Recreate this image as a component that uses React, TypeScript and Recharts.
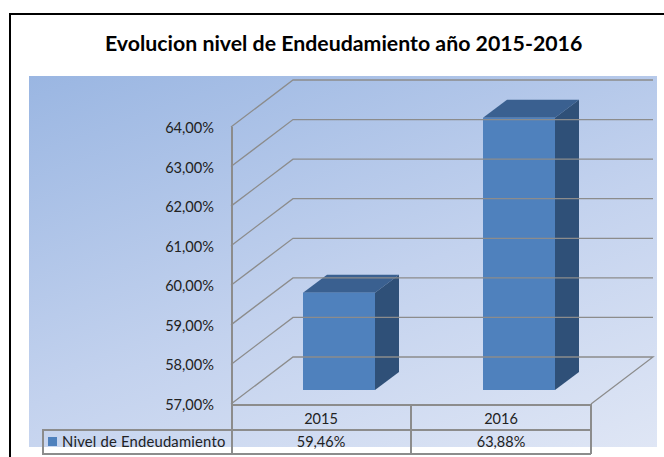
import { Bar, ComposedChart, XAxis, YAxis } from "recharts";

const years = ["2015", "2016"];
const nivel = [59.46, 63.88];
const yTicks = [57, 58, 59, 60, 61, 62, 63, 64];

const data = years.map((year, i) => ({ year, nivel: nivel[i] }));

const pct = (v: number) => v.toFixed(2).replace(".", ",") + "%";

// offsets of the fake 3d box
const wallDx = 62;
const wallDy = 47;
const barShiftX = 18;
const barShiftY = 14;
const barDx = 24;
const barDy = 18;
const FONT = "Lato, sans-serif";

function WallTick({ y, payload }: any) {
    const left = 231;
    const isFloor = payload.value === yTicks[0];
    return (
        <g>
            <polyline
                points={`${left},${y} ${left + wallDx},${y - wallDy} ${left + wallDx + 360},${y - wallDy}${isFloor ? ` ${left + 360},${y}` : ""}`}
                fill="none" stroke="#8c8c8c" strokeWidth={1.3}
            />
            <text x={214} y={y} dy={6} textAnchor="end" fontSize={14.6} fontFamily={FONT} fill="#222">
                {pct(payload.value)}
            </text>
        </g>
    );
}

function YearTick({ x, y, payload, index }: any) {
    return (
        <g>
            <text x={x} y={y} dy={12} textAnchor="middle" fontSize={14.5} fontFamily={FONT} fill="#222">{payload.value}</text>
            <text x={x} y={y} dy={35} textAnchor="middle" fontSize={14.5} fontFamily={FONT} fill="#222">{pct(nivel[index])}</text>
        </g>
    );
}

function Box3d({ x, y, width, height }: any) {
    const l = x + barShiftX;
    const r = l + width;
    const t = y - barShiftY;
    const b = t + height;
    return (
        <g>
            <polygon points={`${l},${t} ${l + barDx},${t - barDy} ${r + barDx},${t - barDy} ${r},${t}`} fill="#3a6090" />
            <polygon points={`${r},${t} ${r + barDx},${t - barDy} ${r + barDx},${b - barDy} ${r},${b}`} fill="#2f5078" />
            <rect x={l} y={t} width={width} height={height} fill="#4f81bd" />
        </g>
    );
}

const line = { position: "absolute", background: "#8c8c8c" } as const;

export default function App() {
    return (
        <div style={{ position: "absolute", left: 0, top: 0, width: 664, height: 457, background: "#fff", overflow: "hidden" }}>
            <div style={{ position: "absolute", left: 9, top: 13, width: 700, height: 500, border: "2.5px solid #000" }} />
            <div style={{ position: "absolute", left: 29, top: 76, width: 628, height: 371, background: "linear-gradient(160deg, #9ab6e2 0%, #c3d2ee 55%, #dfe6f5 100%)" }} />
            <div style={{ position: "absolute", left: 105, top: 30, whiteSpace: "nowrap", fontFamily: FONT, fontWeight: 700, fontSize: 21.3, color: "#000" }}>
                Evolucion nivel de Endeudamiento año 2015-2016
            </div>

            {/* frame of the data table */}
            <div style={{ ...line, left: 231, top: 127, width: 1.5, height: 327 }} />
            <div style={{ ...line, left: 231, top: 404, width: 360, height: 1.5 }} />
            <div style={{ ...line, left: 42, top: 429, width: 549, height: 1.5 }} />
            <div style={{ ...line, left: 42, top: 453, width: 549, height: 1.5 }} />
            <div style={{ ...line, left: 42, top: 429, width: 1.5, height: 25 }} />
            <div style={{ ...line, left: 410, top: 404, width: 1.5, height: 50 }} />
            <div style={{ ...line, left: 590, top: 404, width: 1.5, height: 50 }} />
            <div style={{ position: "absolute", left: 48, top: 437, width: 9, height: 9, background: "#4f81bd" }} />
            <div style={{ position: "absolute", left: 62, top: 432, fontFamily: FONT, fontSize: 14.8, color: "#222", letterSpacing: 0.2 }}>
                Nivel de Endeudamiento
            </div>

            <div style={{ position: "absolute", left: 0, top: 0 }}>
                <ComposedChart width={664} height={457} data={data} margin={{ top: 127, right: 73, bottom: 3, left: 230 }} barCategoryGap={108}>
                    <YAxis
                        domain={[57, 64]} ticks={yTicks} width={1} interval={0}
                        axisLine={false} tickLine={false} tick={<WallTick />}
                    />
                    <XAxis dataKey="year" height={50} axisLine={false} tickLine={false} tick={<YearTick />} />
                    <Bar dataKey="nivel" barSize={72} shape={<Box3d />} isAnimationActive={false} />
                </ComposedChart>
            </div>
        </div>
    );
}
